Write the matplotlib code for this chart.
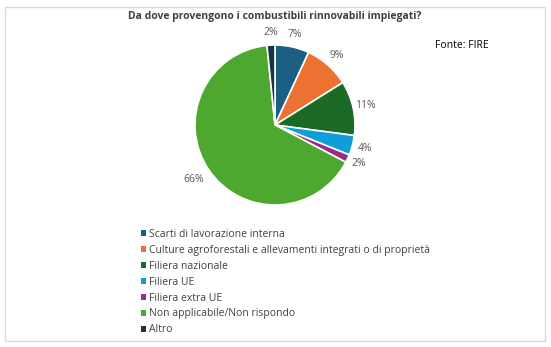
import matplotlib
matplotlib.use("Agg")
import matplotlib.pyplot as plt
import numpy as np
from matplotlib.patches import Rectangle, Patch

# ---------------------------------------------------------------------------
# Data
# ---------------------------------------------------------------------------
title = "Da dove provengono i combustibili rinnovabili impiegati?"
source = "Fonte: FIRE"
categories = [
    "Scarti di lavorazione interna",
    "Culture agroforestali e allevamenti integrati o di proprietà",
    "Filiera nazionale",
    "Filiera UE",
    "Filiera extra UE",
    "Non applicabile/Non rispondo",
    "Altro",
]
values = [6.9, 9.2, 11.0, 4.0, 1.6, 65.7, 1.6]
pct_labels = ["7%", "9%", "11%", "4%", "2%", "66%", "2%"]
colors = ["#1b5f82", "#ec7231", "#1b6b26", "#0e9fd8", "#9b2a8b", "#4ea72e", "#163447"]

# ---------------------------------------------------------------------------
# Figure
# ---------------------------------------------------------------------------
W, H = 551, 347
fig = plt.figure(figsize=(W / 100, H / 100), dpi=100)
plt.rcParams["font.family"] = ["Open Sans", "DejaVu Sans"]

fig.patches.append(Rectangle((5 / W, 6 / H), 540 / W, 334 / H, transform=fig.transFigure,
                             fill=False, edgecolor="#d9d9d9", linewidth=1))

# pie axes: centre at (275, 125) px from top, 80 px per unit
cx, cy, half = 275, H - 125, 100
ax = fig.add_axes([(cx - half) / W, (cy - half) / H, 2 * half / W, 2 * half / H])
wedges, _ = ax.pie(values, colors=colors, startangle=90, counterclock=False,
                   wedgeprops=dict(edgecolor="white", linewidth=1.2))
ax.set_xlim(-1.25, 1.25)
ax.set_ylim(-1.25, 1.25)
ax.set_aspect("equal")
ax.axis("off")

for w, lab in zip(wedges, pct_labels):
    ang = np.deg2rad((w.theta1 + w.theta2) / 2)
    d = 1.22 if lab == "66%" else 1.16
    ax.text(d * np.cos(ang), d * np.sin(ang), lab, ha="center", va="center",
            fontsize=7.5, color="#595959", clip_on=False)

fig.text(cx / W, 1 - 16 / H, title, ha="center", va="center", fontsize=7.5,
         fontweight="bold", color="#404040")
fig.text(462 / W, 1 - 45 / H, source, ha="center", va="center", fontsize=7.5, color="#000000")

handles = [Patch(facecolor=c, edgecolor="none") for c in colors]
leg = fig.legend(handles, categories, loc="upper left", bbox_to_anchor=(141 / W, 1 - 229 / H),
                 frameon=False, fontsize=7.5, handlelength=0.5, handleheight=0.5,
                 handletextpad=0.3, labelspacing=0.47, borderaxespad=0, borderpad=0)
for t in leg.get_texts():
    t.set_color("#404040")

fig.savefig("out.png", dpi=100)
